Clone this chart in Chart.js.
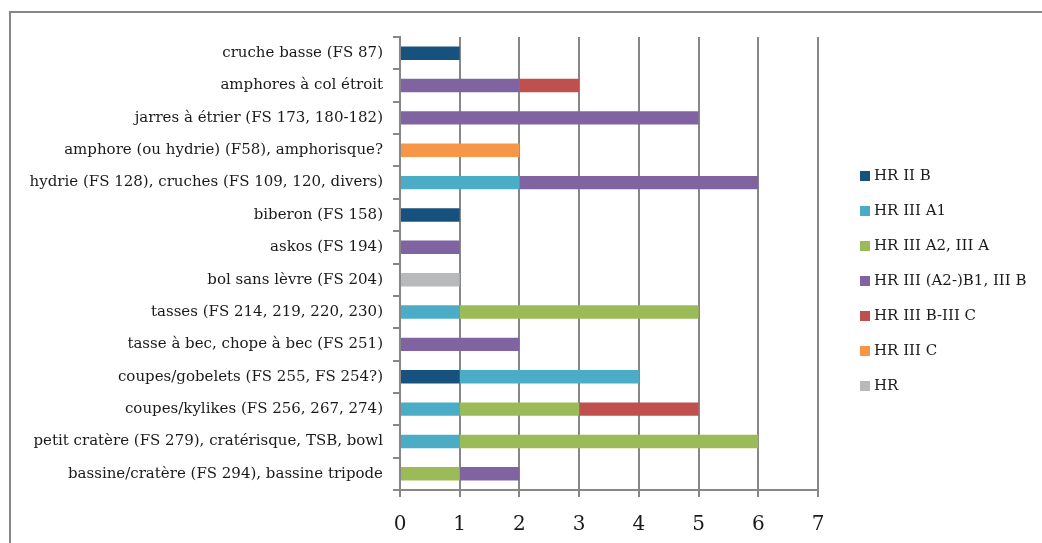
<!DOCTYPE html>
<html>
<head>
<meta charset="utf-8">
<script src="https://cdn.jsdelivr.net/npm/chart.js@4/dist/chart.umd.min.js"></script>
<style>
  html, body { margin: 0; padding: 0; background: #ffffff; overflow: hidden; }
  #wrap { position: relative; width: 1042px; height: 543px; overflow: hidden; }
  #frame { position: absolute; left: 9px; top: 11px; width: 1100px; height: 600px; border: 2px solid #878787; box-sizing: border-box; }
  canvas { position: absolute; left: 0; top: 0; }
</style>
</head>
<body>
<div id="wrap">
  <div id="frame"></div>
  <canvas id="c" width="1042" height="543"></canvas>
</div>
<script>
const categories = [
  "cruche basse (FS 87)",
  "amphores à col étroit",
  "jarres à étrier (FS 173, 180-182)",
  "amphore (ou hydrie) (F58), amphorisque?",
  "hydrie (FS 128), cruches (FS 109, 120, divers)",
  "biberon (FS 158)",
  "askos (FS 194)",
  "bol sans lèvre (FS 204)",
  "tasses (FS 214, 219, 220, 230)",
  "tasse à bec, chope à bec (FS 251)",
  "coupes/gobelets (FS 255, FS 254?)",
  "coupes/kylikes (FS 256, 267, 274)",
  "petit cratère (FS 279), cratérisque, TSB, bowl",
  "bassine/cratère (FS 294), bassine tripode"
];
const seriesNames = ["HR II B", "HR III A1", "HR III A2, III A", "HR III (A2-)B1, III B", "HR III B-III C", "HR III C", "HR"];
const hrIIB     = [1, 0, 0, 0, 0, 1, 0, 0, 0, 0, 1, 0, 0, 0];
const hrIIIA1   = [0, 0, 0, 0, 2, 0, 0, 0, 1, 0, 3, 1, 1, 0];
const hrIIIA2   = [0, 0, 0, 0, 0, 0, 0, 0, 4, 0, 0, 2, 5, 1];
const hrIIIB1   = [0, 2, 5, 0, 4, 0, 1, 0, 0, 2, 0, 0, 0, 1];
const hrIIIBC   = [0, 1, 0, 0, 0, 0, 0, 0, 0, 0, 0, 2, 0, 0];
const hrIIIC    = [0, 0, 0, 2, 0, 0, 0, 0, 0, 0, 0, 0, 0, 0];
const hrGeneric = [0, 0, 0, 0, 0, 0, 0, 1, 0, 0, 0, 0, 0, 0];
const xTicks = [0, 1, 2, 3, 4, 5, 6, 7];

const colors = ["#17527F", "#4BACC6", "#9BBB59", "#8064A2", "#C0504D", "#F79646", "#B7B9BA"];
const seriesData = [hrIIB, hrIIIA1, hrIIIA2, hrIIIB1, hrIIIBC, hrIIIC, hrGeneric];

const FONT = "'DejaVu Serif', serif";
const GRID = "#878787";
const TEXT = "#1a1a1a";

const legendPlugin = {
  id: 'sideLegend',
  afterDraw(chart) {
    const ctx = chart.ctx;
    ctx.save();
    ctx.font = "15px " + FONT;
    ctx.textBaseline = 'middle';
    ctx.textAlign = 'left';
    chart.data.datasets.forEach((ds, i) => {
      const y = 176 + i * 35;
      ctx.fillStyle = ds.backgroundColor;
      ctx.fillRect(860, y - 5, 10, 10);
      ctx.fillStyle = TEXT;
      ctx.fillText(ds.label, 874, y);
    });
    ctx.restore();
  }
};

new Chart(document.getElementById('c'), {
  type: 'bar',
  data: {
    labels: categories,
    datasets: seriesData.map((d, i) => ({
      label: seriesNames[i],
      data: d,
      backgroundColor: colors[i],
      borderWidth: 0,
      barPercentage: 0.52,
      categoryPercentage: 0.8
    }))
  },
  options: {
    indexAxis: 'y',
    responsive: false,
    animation: false,
    devicePixelRatio: 1,
    layout: { padding: { left: 10, top: 37, right: 224, bottom: 0 } },
    plugins: { legend: { display: false }, tooltip: { enabled: false } },
    scales: {
      x: {
        stacked: true,
        min: 0, max: 7,
        afterFit: (s) => { s.height = 53; },
        afterBuildTicks: (s) => { s.ticks = xTicks.map(v => ({ value: v })); },
        ticks: { font: { family: FONT, size: 20 }, color: TEXT, padding: 16 },
        grid: { color: GRID, lineWidth: 2, tickLength: 7, tickColor: GRID },
        border: { color: GRID, width: 2 }
      },
      y: {
        stacked: true,
        afterFit: (s) => { s.width = 390; },
        ticks: { font: { family: FONT, size: 15 }, color: TEXT, padding: 10, autoSkip: false },
        grid: { drawOnChartArea: false, color: GRID, lineWidth: 2, tickLength: 7, offset: true },
        border: { color: GRID, width: 2 }
      }
    }
  },
  plugins: [legendPlugin]
});
</script>
</body>
</html>
